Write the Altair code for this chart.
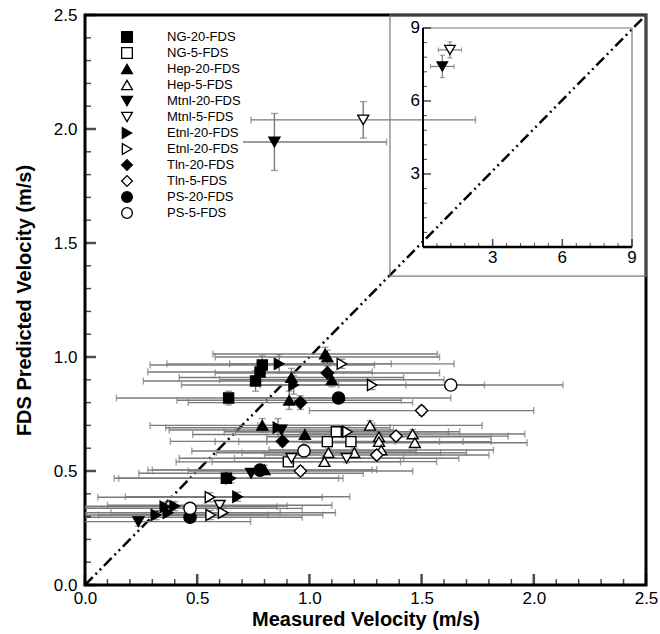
import altair as alt
import pandas as pd

FONT = "Liberation Sans"
GRAY = "#7a7a7a"

# ---------------- series definitions ----------------
SERIES = ["NG-20-FDS", "NG-5-FDS", "Hep-20-FDS", "Hep-5-FDS", "Mtnl-20-FDS", "Mtnl-5-FDS",
          "Etnl-20-FDS", "Etnl-5-FDS", "Tln-20-FDS", "Tln-5-FDS", "PS-20-FDS", "PS-5-FDS"]
# legend texts exactly as printed in the reference (8th entry reads Etnl-20-FDS there)
LEGEND_LABELS = ["NG-20-FDS", "NG-5-FDS", "Hep-20-FDS", "Hep-5-FDS", "Mtnl-20-FDS", "Mtnl-5-FDS",
                 "Etnl-20-FDS", "Etnl-20-FDS", "Tln-20-FDS", "Tln-5-FDS", "PS-20-FDS", "PS-5-FDS"]
SHAPES = ["square", "square", "triangle-up", "triangle-up", "triangle-down", "triangle-down",
          "triangle-right", "triangle-right", "diamond", "diamond", "circle", "circle"]
FILLS = ["black", "white"] * 6
SIZES = [100, 100, 120, 120, 120, 120, 120, 120, 150, 150, 150, 150]

# ---------------- data (measured, predicted, predicted error) ----------------
NG20_X = [0.64, 0.76, 0.78, 0.79, 0.63]
NG20_Y = [0.82, 0.895, 0.934, 0.965, 0.468]
NG20_E = [0.03, 0.045, 0.04, 0.04, 0.02]

NG5_X = [0.906, 1.08, 1.185, 1.12]
NG5_Y = [0.54, 0.629, 0.629, 0.672]
NG5_E = [0.02, 0.02, 0.02, 0.02]

HEP20_X = [1.07, 1.08, 1.10, 0.92, 0.91, 0.79, 0.98, 0.80]
HEP20_Y = [1.013, 1.0, 0.90, 0.91, 0.81, 0.70, 0.66, 0.505]
HEP20_E = [0.03, 0.03, 0.03, 0.04, 0.04, 0.03, 0.03, 0.02]

HEP5_X = [1.27, 1.31, 1.46, 1.47, 1.31, 1.085, 1.20, 1.32, 1.067]
HEP5_Y = [0.70, 0.65, 0.662, 0.624, 0.629, 0.58, 0.58, 0.592, 0.541]
HEP5_E = [0.02, 0.02, 0.02, 0.02, 0.02, 0.02, 0.02, 0.02, 0.02]

MTNL20_X = [0.844, 0.74, 0.238, 0.875]
MTNL20_Y = [1.943, 0.49, 0.278, 0.68]
MTNL20_E = [0.125, 0.02, 0.02, 0.02]

MTNL5_X = [1.24, 1.166, 0.92, 0.60]
MTNL5_Y = [2.04, 0.556, 0.556, 0.35]
MTNL5_E = [0.08, 0.02, 0.02, 0.02]

ETNL20_X = [0.865, 0.93, 0.86, 0.65, 0.68, 0.40, 0.37, 0.316, 0.356]
ETNL20_Y = [0.97, 0.877, 0.69, 0.468, 0.387, 0.346, 0.317, 0.307, 0.343]
ETNL20_E = [0.04, 0.04, 0.04, 0.02, 0.02, 0.02, 0.02, 0.02, 0.02]

ETNL5_X = [1.145, 1.28, 1.17, 0.557, 0.56, 0.616]
ETNL5_Y = [0.97, 0.877, 0.672, 0.385, 0.307, 0.317]
ETNL5_E = [0.02, 0.02, 0.02, 0.02, 0.02, 0.02]

TLN20_X = [1.08, 0.96, 0.88]
TLN20_Y = [0.93, 0.80, 0.63]
TLN20_E = [0.03, 0.03, 0.02]

TLN5_X = [1.50, 1.386, 1.30, 0.96]
TLN5_Y = [0.765, 0.653, 0.57, 0.50]
TLN5_E = [0.02, 0.02, 0.02, 0.02]

PS20_X = [1.13, 0.78, 0.468]
PS20_Y = [0.82, 0.504, 0.297]
PS20_E = [0.02, 0.02, 0.02]

PS5_X = [1.63, 0.976, 0.468]
PS5_Y = [0.877, 0.588, 0.336]
PS5_E = [0.02, 0.02, 0.02]

XERR = 0.5  # measured-velocity uncertainty (m/s)

ALL_X = [NG20_X, NG5_X, HEP20_X, HEP5_X, MTNL20_X, MTNL5_X, ETNL20_X, ETNL5_X, TLN20_X, TLN5_X, PS20_X, PS5_X]
ALL_Y = [NG20_Y, NG5_Y, HEP20_Y, HEP5_Y, MTNL20_Y, MTNL5_Y, ETNL20_Y, ETNL5_Y, TLN20_Y, TLN5_Y, PS20_Y, PS5_Y]
ALL_E = [NG20_E, NG5_E, HEP20_E, HEP5_E, MTNL20_E, MTNL5_E, ETNL20_E, ETNL5_E, TLN20_E, TLN5_E, PS20_E, PS5_E]

# inset (methanol, full scale)
INSET_SHAPE = ["triangle-down", "triangle-down"]
INSET_FILL = ["black", "white"]
INSET_X = [0.83, 1.16]
INSET_Y = [7.42, 8.10]
INSET_XE = [0.51, 0.50]
INSET_YE = [0.46, 0.33]

# axis ticks
MAIN_LABELS = [0.0, 0.5, 1.0, 1.5, 2.0, 2.5]
MAIN_MINOR = [0.1, 0.2, 0.3, 0.4, 0.6, 0.7, 0.8, 0.9, 1.1, 1.2, 1.3, 1.4,
              1.6, 1.7, 1.8, 1.9, 2.1, 2.2, 2.3, 2.4]
INSET_MAJOR = [3, 6, 9]
INSET_MINOR = [0.6, 1.2, 1.8, 2.4, 3.6, 4.2, 4.8, 5.4, 6.6, 7.2, 7.8, 8.4]

# ---------------- build tables ----------------
rows = []
for name, xs_, ys_, es_, sz, shp, fl in zip(SERIES, ALL_X, ALL_Y, ALL_E, SIZES, SHAPES, FILLS):
    for x, y, e in zip(xs_, ys_, es_):
        rows.append(dict(series=name, x=x, y=y, xlo=x - XERR, xhi=x + XERR,
                         ylo=y - e, yhi=y + e, sz=sz, shape=shp, fill=fl))
df = pd.DataFrame(rows)

inset_df = pd.DataFrame(dict(shape=INSET_SHAPE, fill=INSET_FILL, x=INSET_X, y=INSET_Y))
inset_df["xlo"] = inset_df["x"] - pd.Series(INSET_XE)
inset_df["xhi"] = inset_df["x"] + pd.Series(INSET_XE)
inset_df["ylo"] = inset_df["y"] - pd.Series(INSET_YE)
inset_df["yhi"] = inset_df["y"] + pd.Series(INSET_YE)

legend_df = pd.DataFrame(dict(series=SERIES, label=LEGEND_LABELS, shape=SHAPES, fill=FILLS))

# ---------------- main scales / axes ----------------
xs = alt.Scale(domain=[0, 2.5], nice=False, zero=False)
ys = alt.Scale(domain=[0, 2.5], nice=False, zero=False)

AX_X = alt.Axis(title="Measured Velocity (m/s)", values=MAIN_LABELS, format=".1f",
                ticks=False, domain=False, grid=False, labelFlush=False,
                labelFontSize=17, labelPadding=5, labelFont=FONT, labelColor="black",
                titleFontSize=20, titleFontWeight="bold", titleFont=FONT, titleColor="black",
                titlePadding=3)
AX_Y = alt.Axis(title="FDS Predicted Velocity (m/s)", values=MAIN_LABELS, format=".1f",
                ticks=False, domain=False, grid=False, labelFlush=False,
                labelFontSize=17, labelPadding=8, labelFont=FONT, labelColor="black",
                titleFontSize=20, titleFontWeight="bold", titleFont=FONT, titleColor="black",
                titlePadding=19)


def MX(field=None, **kw):
    if field is None:
        return alt.X(scale=xs, axis=AX_X, **kw)
    return alt.X(field, scale=xs, axis=AX_X, **kw)


def MY(field=None, **kw):
    if field is None:
        return alt.Y(scale=ys, axis=AX_Y, **kw)
    return alt.Y(field, scale=ys, axis=AX_Y, **kw)


diag = alt.Chart(pd.DataFrame({"v": [0.0, 2.5]})).mark_line(
    color="black", strokeWidth=2.5, strokeDash=[11, 4, 2, 4, 2, 4]
).encode(x=MX("v:Q"), y=MY("v:Q"))

base = alt.Chart(df)
hbar = base.mark_rule(color=GRAY, strokeWidth=1.4, clip=True).encode(
    x=MX("xlo:Q"), x2="xhi:Q", y=MY("y:Q"))
hcap1 = base.mark_tick(orient="vertical", size=7, thickness=1.4, color=GRAY, clip=True).encode(
    x=MX("xlo:Q"), y=MY("y:Q"))
hcap2 = base.mark_tick(orient="vertical", size=7, thickness=1.4, color=GRAY, clip=True).encode(
    x=MX("xhi:Q"), y=MY("y:Q"))
vbar = base.mark_rule(color=GRAY, strokeWidth=1.4, clip=True).encode(
    x=MX("x:Q"), y=MY("ylo:Q"), y2="yhi:Q")
vcap1 = base.mark_tick(orient="horizontal", size=7, thickness=1.4, color=GRAY, clip=True).encode(
    x=MX("x:Q"), y=MY("ylo:Q"))
vcap2 = base.mark_tick(orient="horizontal", size=7, thickness=1.4, color=GRAY, clip=True).encode(
    x=MX("x:Q"), y=MY("yhi:Q"))

points = base.mark_point(filled=True, opacity=1, stroke="black", strokeWidth=1.4).encode(
    x=MX("x:Q"),
    y=MY("y:Q"),
    shape=alt.Shape("shape:N", scale=None),
    fill=alt.Fill("fill:N", scale=None),
    size=alt.Size("sz:Q", scale=None),
)

# outer inset box (in main coordinates)
inset_box = alt.Chart(pd.DataFrame({"a": [1.359], "b": [2.5], "c": [1.355]})).mark_rect(
    fillOpacity=0, stroke=GRAY, strokeWidth=1.2
).encode(x=MX("a:Q"), x2="b:Q", y=MY("c:Q"), y2="b:Q")

# main ticks (inward)
tmaj = alt.Chart(pd.DataFrame({"v": MAIN_LABELS}))
tmin = alt.Chart(pd.DataFrame({"v": MAIN_MINOR}))
bt_maj = tmaj.mark_tick(orient="vertical", size=11, thickness=2.5, color="black", yOffset=-5.5).encode(
    x=MX("v:Q"), y=MY(datum=0))
bt_min = tmin.mark_tick(orient="vertical", size=6, thickness=1.5, color="black", yOffset=-3).encode(
    x=MX("v:Q"), y=MY(datum=0))
lt_maj = tmaj.mark_tick(orient="horizontal", size=11, thickness=2.5, color="black", xOffset=5.5).encode(
    y=MY("v:Q"), x=MX(datum=0))
lt_min = tmin.mark_tick(orient="horizontal", size=6, thickness=1.5, color="black", xOffset=3).encode(
    y=MY("v:Q"), x=MX(datum=0))

main = alt.layer(diag, inset_box, hbar, hcap1, hcap2, vbar, vcap1, vcap2, points,
                 bt_maj, bt_min, lt_maj, lt_min)

# ---------------- legend (own row scale) ----------------
ly = alt.Scale(type="point", domain=SERIES, range=[22, 198], padding=0)
leg_bg = alt.Chart(pd.DataFrame({"k": [0]})).mark_rect(fill="white").encode(
    x=alt.value(30), x2=alt.value(158), y=alt.value(12), y2=alt.value(207))
leg_sym = alt.Chart(legend_df).mark_point(filled=True, opacity=1, stroke="black",
                                          strokeWidth=1.3, size=115).encode(
    x=alt.value(42), y=alt.Y("series:N", scale=ly, axis=None),
    shape=alt.Shape("shape:N", scale=None), fill=alt.Fill("fill:N", scale=None))
leg_txt = alt.Chart(legend_df).mark_text(align="left", baseline="middle", font=FONT,
                                         fontSize=13, color="black").encode(
    x=alt.value(82), y=alt.Y("series:N", scale=ly, axis=None), text="label:N")
legend = alt.layer(leg_bg, leg_sym, leg_txt)

# ---------------- inset ----------------
ixs = alt.Scale(domain=[0, 9], range=[338, 547], nice=False, zero=False)
iys = alt.Scale(domain=[0, 9], range=[232, 13], nice=False, zero=False)

frame_df = pd.DataFrame({"a": [0], "b": [9]})
iframe = alt.Chart(frame_df).mark_rect(fillOpacity=0, stroke=GRAY, strokeWidth=1.2).encode(
    x=alt.X("a:Q", scale=ixs, axis=None), x2="b:Q", y=alt.Y("a:Q", scale=iys, axis=None), y2="b:Q")
ileft = alt.Chart(frame_df).mark_rule(color="black", strokeWidth=2).encode(
    x=alt.X("a:Q", scale=ixs, axis=None), y=alt.Y("a:Q", scale=iys, axis=None), y2="b:Q")
ibottom = alt.Chart(frame_df).mark_rule(color="black", strokeWidth=2.5).encode(
    x=alt.X("a:Q", scale=ixs, axis=None), x2="b:Q", y=alt.Y("a:Q", scale=iys, axis=None))

imaj = alt.Chart(pd.DataFrame({"v": INSET_MAJOR}))
imin = alt.Chart(pd.DataFrame({"v": INSET_MINOR}))
ibt_maj = imaj.mark_tick(orient="vertical", size=8, thickness=1.5, color="black", yOffset=-4).encode(
    x=alt.X("v:Q", scale=ixs, axis=None), y=alt.Y(datum=0, scale=iys, axis=None))
ibt_min = imin.mark_tick(orient="vertical", size=4, thickness=1, color="black", yOffset=-2).encode(
    x=alt.X("v:Q", scale=ixs, axis=None), y=alt.Y(datum=0, scale=iys, axis=None))
ilt_maj = imaj.mark_tick(orient="horizontal", size=8, thickness=1.5, color="black", xOffset=4).encode(
    y=alt.Y("v:Q", scale=iys, axis=None), x=alt.X(datum=0, scale=ixs, axis=None))
ilt_min = imin.mark_tick(orient="horizontal", size=4, thickness=1, color="black", xOffset=2).encode(
    y=alt.Y("v:Q", scale=iys, axis=None), x=alt.X(datum=0, scale=ixs, axis=None))
ixlab = imaj.mark_text(font=FONT, fontSize=17, color="black", baseline="top", dy=3).encode(
    x=alt.X("v:Q", scale=ixs, axis=None), y=alt.Y(datum=0, scale=iys, axis=None), text="v:Q")
iylab = imaj.mark_text(font=FONT, fontSize=17, color="black", align="right", baseline="middle", dx=-3).encode(
    y=alt.Y("v:Q", scale=iys, axis=None), x=alt.X(datum=0, scale=ixs, axis=None), text="v:Q")

ibase = alt.Chart(inset_df)
ihbar = ibase.mark_rule(color=GRAY, strokeWidth=1.2).encode(
    x=alt.X("xlo:Q", scale=ixs, axis=None), x2="xhi:Q", y=alt.Y("y:Q", scale=iys, axis=None))
ihc1 = ibase.mark_tick(orient="vertical", size=5, thickness=1.2, color=GRAY).encode(
    x=alt.X("xlo:Q", scale=ixs, axis=None), y=alt.Y("y:Q", scale=iys, axis=None))
ihc2 = ibase.mark_tick(orient="vertical", size=5, thickness=1.2, color=GRAY).encode(
    x=alt.X("xhi:Q", scale=ixs, axis=None), y=alt.Y("y:Q", scale=iys, axis=None))
ivbar = ibase.mark_rule(color=GRAY, strokeWidth=1.2).encode(
    x=alt.X("x:Q", scale=ixs, axis=None), y=alt.Y("ylo:Q", scale=iys, axis=None), y2="yhi:Q")
ivc1 = ibase.mark_tick(orient="horizontal", size=5, thickness=1.2, color=GRAY).encode(
    x=alt.X("x:Q", scale=ixs, axis=None), y=alt.Y("ylo:Q", scale=iys, axis=None))
ivc2 = ibase.mark_tick(orient="horizontal", size=5, thickness=1.2, color=GRAY).encode(
    x=alt.X("x:Q", scale=ixs, axis=None), y=alt.Y("yhi:Q", scale=iys, axis=None))
ipts = ibase.mark_point(filled=True, opacity=1, stroke="black", strokeWidth=1.3).encode(
    x=alt.X("x:Q", scale=ixs, axis=None), y=alt.Y("y:Q", scale=iys, axis=None),
    shape=alt.Shape("shape:N", scale=None), fill=alt.Fill("fill:N", scale=None),
    size=alt.value(110))

inset = alt.layer(iframe, ileft, ibottom, ibt_maj, ibt_min, ilt_maj, ilt_min, ixlab, iylab,
                  ihbar, ihc1, ihc2, ivbar, ivc1, ivc2, ipts)

chart = alt.layer(main, legend, inset).resolve_scale(
    x="independent", y="independent"
).properties(
    width=561, height=570,
    autosize=alt.AutoSizeParams(type="none"),
    padding={"left": 85, "top": 15, "right": 14, "bottom": 49},
    background="white",
).configure_view(stroke="black", strokeWidth=3)

chart.save("out.html", embed_options={"renderer": "svg", "actions": False})
